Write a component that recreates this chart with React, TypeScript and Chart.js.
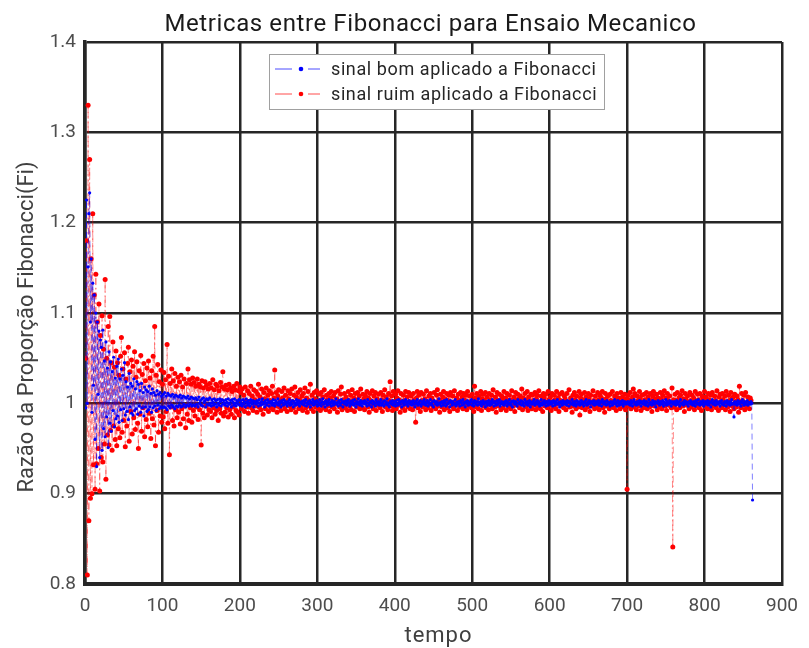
import React, { useEffect, useRef } from "react";
import { Chart, registerables } from "chart.js";

Chart.register(...registerables);

const TITLE = "Metricas entre Fibonacci para Ensaio Mecanico";
const X_TITLE = "tempo";
const Y_TITLE = "Razão da Proporção Fibonacci(Fi)";
const SERIES_LABELS = ["sinal bom aplicado a Fibonacci", "sinal ruim aplicado a Fibonacci"];
const X_TICK_VALUES = [0, 100, 200, 300, 400, 500, 600, 700, 800, 900];
const Y_TICK_LABELS = ["0.8", "0.9", "1", "1.1", "1.2", "1.3", "1.4"];

// sinal ruim (red), t = 1..860
const RUIM = [
  1.05, 1.18, 0.81, 1.33, 0.87, 1.27, 0.895, 1.16, 0.9, 1.21, 0.932, 1.12, 0.905, 1.143, 0.933, 1.09, 0.95, 1.11, 0.903, 1.075,
  0.94, 1.097, 0.935, 1.06, 0.955, 1.137, 0.916, 1.05, 0.965, 1.085, 0.954, 1.096, 0.97, 1.045, 0.948, 1.068, 0.975, 1.04, 0.96, 1.058,
  0.953, 1.045, 0.972, 1.031, 0.962, 1.052, 1.073, 0.968, 1.038, 0.981, 1.056, 0.952, 1.027, 0.975, 1.044, 1.062, 0.958, 1.035, 0.991, 1.048,
  0.966, 1.041, 0.984, 1.057, 0.971, 1.029, 1.046, 0.978, 0.95, 1.036, 0.988, 1.053, 0.969, 1.032, 0.995, 1.044, 0.963, 1.025, 0.982, 1.039,
  0.974, 1.047, 0.989, 1.028, 0.961, 1.036, 0.983, 1.052, 0.976, 1.085, 0.953, 1.031, 0.992, 1.043, 0.968, 1.024, 0.986, 1.037, 0.979, 1.021,
  0.985, 1.034, 0.972, 1.026, 0.991, 1.065, 0.978, 1.03, 0.943, 1.022, 0.996, 1.038, 0.981, 1.025, 0.975, 1.033, 0.993, 1.019, 0.984, 1.029,
  0.99, 1.024, 0.977, 1.031, 0.994, 1.018, 0.983, 1.027, 0.997, 0.973, 1.022, 0.988, 1.038, 0.981, 1.026, 0.995, 1.021, 0.979, 1.028, 0.992,
  1.023, 0.986, 1.019, 0.996, 1.027, 0.982, 1.021, 0.993, 1.018, 0.954, 1.025, 0.989, 1.017, 0.984, 1.024, 0.997, 1.02, 0.987, 1.016, 0.993,
  1.022, 0.991, 1.017, 0.984, 1.026, 0.995, 1.015, 0.988, 1.021, 0.992, 1.019, 0.981, 1.014, 0.994, 1.023, 0.989, 1.018, 1.035, 0.986, 1.016,
  0.99, 1.02, 0.995, 1.015, 0.985, 1.021, 0.993, 1.017, 0.988, 1.013, 0.996, 1.019, 0.984, 1.015, 0.992, 1.022, 0.99, 1.014, 0.987, 1.018,
  1.012, 0.994, 1.016, 0.998, 1.009, 0.991, 1.018, 1.003, 0.996, 1.014, 0.989, 1.011, 1.002, 1.019, 0.995, 1.008, 0.992, 1.015, 1.004, 0.997,
  1.013, 0.99, 1.01, 1.021, 0.996, 1.007, 0.993, 1.016, 1.001, 0.988, 1.012, 1.005, 0.994, 1.017, 0.999, 1.009, 0.991, 1.014, 1.003, 0.995,
  1.011, 1.019, 0.993, 1.006, 1.037, 0.997, 1.012, 0.99, 1.008, 1.015, 0.996, 1.003, 0.992, 1.013, 1.006, 0.998, 1.017, 0.994, 1.009, 1.002,
  0.991, 1.014, 1.005, 0.997, 1.011, 0.993, 1.016, 1.002, 0.995, 1.009, 1.018, 0.99, 1.007, 0.999, 1.012, 0.994, 1.004, 1.015, 0.996, 1.008,
  0.992, 1.011, 1.001, 1.017, 0.995, 1.006, 0.99, 1.013, 1.003, 0.997, 1.021, 0.994, 1.009, 1.0, 0.991, 1.012, 1.005, 0.996, 1.014, 1.002,
  0.994, 1.01, 1.003, 0.992, 1.012, 0.998, 1.007, 0.995, 1.015, 1.001, 0.993, 1.009, 1.004, 0.997, 1.011, 0.991, 1.006, 1.013, 0.996, 1.002,
  1.008, 0.994, 1.012, 0.999, 1.005, 0.99, 1.014, 1.002, 0.996, 1.01, 1.018, 0.993, 1.004, 0.998, 1.011, 0.995, 1.007, 1.001, 0.992, 1.013,
  1.003, 0.997, 1.009, 0.993, 1.015, 1.0, 1.006, 0.991, 1.011, 1.004, 0.996, 1.012, 0.998, 1.008, 0.994, 1.016, 1.002, 0.995, 1.01, 1.005,
  0.993, 1.009, 1.001, 1.013, 0.996, 1.006, 0.99, 1.011, 1.003, 0.997, 1.014, 0.994, 1.008, 1.0, 1.012, 0.992, 1.005, 0.998, 1.01, 1.002,
  0.995, 1.012, 1.004, 0.991, 1.009, 0.999, 1.015, 0.996, 1.007, 1.001, 0.993, 1.011, 1.003, 1.024, 0.997, 1.008, 0.992, 1.013, 1.002, 0.996,
  1.01, 0.994, 1.006, 1.014, 0.998, 1.004, 0.99, 1.011, 1.001, 0.995, 1.009, 1.003, 0.992, 1.013, 0.999, 1.007, 0.996, 1.012, 1.002, 0.994,
  1.008, 1.0, 0.993, 1.011, 1.004, 0.997, 0.979, 1.006, 1.013, 0.995, 1.009, 1.001, 0.991, 1.012, 1.003, 0.996, 1.01, 0.998, 1.005, 0.993,
  1.014, 1.002, 0.995, 1.008, 0.999, 1.011, 0.992, 1.006, 1.003, 0.996, 1.012, 1.0, 0.994, 1.009, 1.015, 0.997, 1.004, 0.99, 1.01, 1.002,
  0.996, 1.007, 1.013, 0.993, 1.005, 0.999, 1.011, 0.995, 1.003, 1.009, 0.991, 1.012, 1.001, 0.997, 1.008, 0.994, 1.014, 1.002, 0.998, 1.006,
  0.992, 1.01, 1.003, 0.996, 1.012, 1.0, 1.007, 0.994, 1.011, 1.004, 0.998, 1.009, 0.993, 1.013, 1.001, 0.997, 1.008, 1.002, 0.995, 1.01,
  1.004, 0.991, 1.019, 1.006, 0.996, 1.011, 1.001, 0.994, 1.008, 0.999, 1.013, 0.992, 1.005, 1.01, 0.997, 1.003, 1.012, 0.995, 1.007, 1.0,
  0.993, 1.011, 1.004, 0.998, 1.009, 0.994, 1.015, 1.002, 0.996, 1.007, 0.99, 1.012, 1.003, 0.997, 1.01, 1.001, 0.993, 1.008, 1.005, 0.995,
  1.013, 0.999, 1.006, 0.992, 1.011, 1.002, 0.996, 1.009, 1.004, 0.994, 1.014, 1.0, 0.997, 1.007, 0.991, 1.012, 1.003, 0.998, 1.01, 1.005,
  0.995, 1.008, 1.001, 1.016, 0.993, 1.006, 0.999, 1.011, 0.996, 1.004, 1.013, 0.992, 1.007, 1.002, 0.997, 1.01, 0.994, 1.009, 1.003, 0.998,
  1.012, 0.993, 1.005, 1.009, 0.996, 1.014, 1.0, 0.994, 1.008, 1.003, 0.991, 1.011, 1.006, 0.997, 1.01, 1.001, 0.995, 1.013, 1.004, 0.998,
  1.007, 0.992, 1.011, 1.002, 0.996, 1.009, 1.004, 0.994, 1.013, 0.999, 1.006, 0.991, 1.01, 1.003, 0.997, 1.012, 1.0, 0.995, 1.008, 1.005,
  0.993, 1.011, 1.001, 0.998, 1.015, 0.996, 1.006, 1.003, 0.99, 1.009, 0.997, 1.012, 1.004, 0.994, 1.008, 1.0, 0.996, 1.013, 0.987, 1.006,
  1.01, 0.995, 1.004, 0.999, 1.012, 0.993, 1.007, 1.002, 0.996, 1.011, 1.005, 0.991, 1.009, 1.0, 0.997, 1.014, 1.003, 0.994, 1.008, 1.001,
  0.996, 1.012, 1.004, 0.993, 1.009, 0.998, 1.006, 1.013, 0.995, 1.002, 0.99, 1.011, 1.005, 0.997, 1.008, 1.0, 0.994, 1.01, 1.003, 0.996,
  1.013, 1.001, 0.995, 1.008, 1.004, 0.992, 1.011, 0.998, 1.006, 1.002, 0.994, 1.012, 0.999, 1.007, 1.003, 0.996, 1.01, 0.993, 1.005, 0.905,
  1.009, 0.997, 1.004, 1.012, 0.994, 1.002, 1.007, 1.016, 0.996, 1.011, 1.0, 0.993, 1.008, 1.003, 0.997, 1.013, 1.005, 0.992, 1.009, 1.001,
  0.995, 1.01, 1.004, 0.998, 1.012, 0.994, 1.007, 1.001, 0.996, 1.011, 1.003, 0.991, 1.008, 1.013, 0.997, 1.005, 0.999, 1.01, 0.993, 1.006,
  1.002, 0.996, 1.012, 1.005, 0.994, 1.009, 1.0, 1.014, 0.997, 1.006, 0.992, 1.011, 1.003, 0.998, 1.008, 1.001, 0.995, 1.017, 0.841, 1.004,
  0.996, 1.01, 1.003, 0.993, 1.012, 1.0, 1.006, 0.995, 1.009, 1.002, 1.014, 0.997, 1.005, 0.991, 1.011, 1.004, 0.998, 1.008, 1.001, 0.994,
  1.012, 1.003, 0.996, 1.009, 0.999, 1.006, 0.993, 1.013, 1.002, 0.997, 1.01, 1.004, 0.995, 1.011, 1.0, 0.992, 1.008, 1.005, 0.998, 1.013,
  0.996, 1.007, 1.002, 0.994, 1.011, 1.004, 0.999, 1.009, 0.993, 1.012, 1.001, 0.997, 1.008, 1.003, 0.995, 1.014, 1.0, 0.992, 1.007, 1.01,
  1.002, 0.995, 1.011, 1.004, 0.998, 1.008, 0.993, 1.013, 1.001, 0.996, 1.009, 1.003, 0.991, 1.012, 1.005, 0.997, 1.007, 0.994, 1.01, 1.002,
  0.996, 1.008, 1.004, 0.99, 1.019, 1.001, 0.995, 1.011, 1.003, 0.998, 1.009, 0.993, 1.012, 1.0, 0.996, 1.007, 1.002, 0.994, 1.006, 1.003,
];

// sinal bom (blue), t = 1..862
const BOM = [
  0.995, 1.225, 1.0, 1.151, 1.21, 1.233, 1.09, 1.16, 0.99, 1.133, 1.02, 1.12, 0.96, 1.10, 0.93, 1.09, 1.01, 1.08, 0.94, 1.07,
  1.062, 0.948, 1.081, 0.972, 1.047, 0.963, 1.068, 0.985, 1.039, 0.951, 1.057, 0.978, 1.046, 0.969, 1.035, 0.992, 1.051, 0.974, 1.028, 0.983,
  1.041, 0.986, 1.049, 0.979, 1.027, 0.993, 1.038, 0.981, 1.031, 0.994, 1.045, 0.987, 1.024, 0.991, 1.018, 0.982, 1.033, 0.996, 1.022, 0.989,
  1.019, 0.987, 1.027, 0.992, 1.016, 0.994, 1.024, 0.988, 1.021, 0.997, 1.014, 0.99, 1.022, 0.995, 1.012, 0.986, 1.018, 0.996, 1.015, 0.991,
  1.013, 0.993, 1.019, 0.996, 1.011, 0.99, 1.016, 0.995, 1.012, 0.997, 1.009, 0.992, 1.014, 0.998, 1.01, 0.994, 1.012, 0.996, 1.008, 0.995,
  1.01, 0.996, 1.012, 0.995, 1.008, 0.993, 1.011, 0.997, 1.009, 0.995, 1.008, 0.998, 1.01, 0.996, 1.007, 0.994, 1.009, 0.997, 1.008, 0.996,
  1.007, 0.998, 1.009, 0.996, 1.006, 0.997, 1.008, 0.999, 1.007, 0.996, 1.006, 0.998, 1.008, 0.997, 1.005, 0.999, 1.007, 0.997, 1.006, 0.998,
  1.005, 0.997, 1.006, 0.999, 1.004, 0.996, 1.007, 1.0, 1.003, 0.998, 1.005, 0.997, 1.006, 1.001, 1.003, 0.996, 1.005, 0.999, 1.004, 0.998,
  1.006, 1.0, 0.997, 1.004, 1.001, 0.998, 1.005, 0.999, 1.003, 0.996, 1.004, 1.0, 0.998, 1.005, 1.002, 0.997, 1.004, 0.999, 1.003, 1.0,
  0.998, 1.004, 1.001, 0.997, 1.005, 1.0, 0.999, 1.003, 0.996, 1.004, 1.001, 0.998, 1.005, 1.0, 0.997, 1.003, 1.002, 0.999, 1.004, 0.998,
  1.003, 1.0, 0.997, 1.004, 0.999, 1.002, 0.996, 1.005, 1.001, 0.998, 1.003, 1.0, 0.997, 1.004, 1.001, 0.999, 1.003, 0.996, 1.002, 1.0,
  0.999, 1.003, 1.001, 0.997, 1.004, 1.0, 0.998, 1.002, 1.005, 0.999, 1.001, 0.996, 1.003, 1.0, 0.998, 1.004, 1.001, 0.997, 1.002, 1.0,
  1.002, 0.998, 1.004, 1.0, 0.997, 1.003, 1.001, 0.999, 1.005, 0.998, 1.002, 1.0, 0.996, 1.003, 1.001, 0.998, 1.004, 0.999, 1.002, 1.0,
  0.997, 1.002, 1.0, 1.004, 0.998, 1.001, 0.999, 1.003, 0.996, 1.002, 1.0, 0.998, 1.004, 1.001, 0.999, 1.003, 0.997, 1.001, 1.0, 1.002,
  0.999, 1.003, 0.998, 1.001, 1.004, 0.997, 1.0, 1.002, 0.999, 1.003, 0.996, 1.001, 1.0, 1.004, 0.998, 1.002, 0.999, 1.001, 1.003, 0.997,
  1.001, 0.998, 1.004, 1.0, 0.997, 1.002, 1.005, 0.999, 1.001, 0.996, 1.003, 1.0, 0.998, 1.002, 1.004, 0.999, 1.001, 0.997, 1.003, 1.0,
  0.998, 1.002, 1.0, 1.005, 0.999, 1.001, 0.997, 1.003, 1.0, 0.998, 1.004, 1.001, 0.996, 1.002, 1.0, 0.999, 1.003, 0.998, 1.001, 1.004,
  1.0, 0.997, 1.002, 0.999, 1.003, 1.001, 0.998, 1.004, 1.0, 0.996, 1.002, 0.999, 1.005, 1.001, 0.998, 1.003, 1.0, 0.997, 1.002, 1.0,
  1.003, 0.999, 1.001, 0.997, 1.004, 1.0, 0.998, 1.002, 1.001, 0.996, 1.003, 0.999, 1.002, 1.0, 0.997, 1.004, 1.001, 0.999, 1.002, 0.998,
  1.001, 1.004, 0.998, 1.0, 1.002, 0.997, 1.003, 0.999, 1.001, 1.005, 0.998, 1.0, 0.996, 1.002, 1.001, 0.999, 1.003, 0.998, 1.0, 1.002,
  0.997, 1.003, 1.0, 0.998, 1.004, 1.001, 0.999, 1.002, 0.996, 1.003, 1.0, 0.998, 1.002, 1.004, 0.999, 1.001, 0.997, 1.003, 1.0, 0.999,
  1.002, 0.998, 1.001, 1.003, 0.999, 0.996, 1.002, 1.0, 1.004, 0.998, 1.001, 0.999, 1.003, 0.997, 1.0, 1.002, 0.999, 1.004, 1.001, 0.998,
  1.0, 1.003, 0.997, 1.001, 0.999, 1.004, 1.0, 0.998, 1.002, 0.996, 1.003, 1.001, 0.999, 1.002, 0.998, 1.0, 1.005, 0.999, 1.001, 0.997,
  1.002, 1.0, 0.998, 1.003, 1.001, 0.997, 1.004, 0.999, 1.0, 1.002, 0.996, 1.003, 1.001, 0.998, 1.002, 1.0, 0.999, 1.004, 0.997, 1.001,
  0.999, 1.002, 1.0, 0.997, 1.003, 1.001, 0.998, 1.004, 0.999, 1.001, 0.996, 1.002, 1.0, 1.003, 0.998, 1.001, 0.999, 1.002, 1.004, 0.998,
  1.001, 0.997, 1.003, 1.0, 0.999, 1.002, 0.998, 1.005, 1.001, 0.999, 1.002, 0.997, 1.0, 1.003, 0.999, 1.001, 0.996, 1.002, 1.0, 0.998,
  1.003, 1.0, 0.998, 1.002, 0.999, 1.004, 1.001, 0.997, 1.002, 1.0, 0.998, 1.003, 0.999, 1.001, 1.004, 0.997, 1.0, 1.002, 0.999, 1.001,
  0.998, 1.002, 1.0, 1.003, 0.997, 1.001, 0.999, 1.004, 1.0, 0.998, 1.002, 0.996, 1.003, 1.001, 0.999, 1.002, 1.0, 0.997, 1.004, 1.0,
  1.001, 0.999, 1.003, 0.998, 1.002, 1.0, 0.997, 1.004, 1.001, 0.999, 1.002, 0.998, 1.0, 1.003, 0.996, 1.001, 0.999, 1.002, 1.0, 1.004,
  0.998, 1.001, 1.0, 1.003, 0.999, 1.002, 0.997, 1.0, 1.004, 0.998, 1.001, 0.999, 1.003, 1.0, 0.997, 1.002, 1.001, 0.998, 1.003, 1.0,
  0.999, 1.002, 1.0, 0.997, 1.003, 1.001, 0.998, 1.002, 1.0, 1.004, 0.999, 1.001, 0.996, 1.002, 1.0, 0.998, 1.003, 1.001, 0.999, 1.002,
  1.0, 0.998, 1.003, 1.001, 0.997, 1.002, 1.0, 0.999, 1.004, 1.001, 0.998, 1.002, 1.0, 0.997, 1.003, 0.999, 1.001, 1.002, 0.998, 1.0,
  1.003, 0.999, 1.001, 0.997, 1.002, 1.0, 1.004, 0.998, 1.001, 0.999, 1.003, 1.0, 0.996, 1.002, 1.001, 0.999, 1.003, 0.998, 1.0, 1.002,
  0.999, 1.001, 1.003, 0.998, 1.0, 1.002, 0.997, 1.004, 1.001, 0.999, 1.002, 1.0, 0.998, 1.003, 0.999, 1.001, 1.0, 0.997, 1.002, 1.001,
  0.998, 1.002, 1.0, 1.004, 0.999, 1.001, 0.997, 1.003, 1.0, 0.998, 1.002, 1.001, 0.999, 1.003, 0.997, 1.0, 1.002, 0.999, 1.001, 1.0,
  1.002, 0.999, 1.001, 0.998, 1.003, 1.0, 0.997, 1.002, 1.004, 0.999, 1.001, 0.998, 1.002, 1.0, 0.999, 1.003, 1.001, 0.997, 1.002, 1.0,
  0.999, 1.003, 1.0, 0.998, 1.002, 1.001, 0.997, 1.004, 0.999, 1.001, 1.0, 0.998, 1.003, 1.001, 0.999, 1.002, 0.996, 1.001, 1.0, 1.003,
  1.0, 0.998, 1.002, 1.001, 0.999, 1.003, 0.997, 1.001, 1.0, 1.004, 0.998, 1.002, 1.0, 0.999, 1.003, 1.001, 0.997, 1.002, 1.0, 0.999,
  1.002, 1.0, 0.998, 1.003, 1.001, 0.999, 1.002, 0.997, 1.004, 1.0, 0.999, 1.001, 0.998, 1.003, 1.0, 1.002, 0.999, 1.001, 0.997, 1.002,
  1.0, 1.003, 0.999, 1.001, 0.998, 1.002, 1.0, 0.997, 1.003, 1.001, 0.999, 1.004, 1.0, 0.998, 1.002, 1.001, 0.999, 1.003, 0.997, 1.0,
  1.002, 0.999, 1.001, 1.003, 0.998, 1.0, 1.002, 0.996, 1.001, 1.004, 0.999, 1.0, 1.002, 0.998, 1.003, 1.001, 0.999, 1.0, 1.002, 0.997,
  1.001, 1.003, 0.999, 1.0, 0.998, 1.002, 1.001, 0.997, 1.003, 1.0, 0.999, 1.002, 0.998, 1.001, 1.004, 0.999, 1.0, 0.985, 1.002, 0.999,
  1.001, 0.998, 1.003, 1.0, 0.999, 1.002, 0.997, 1.001, 1.004, 1.0, 0.998, 1.002, 1.0, 0.999, 1.003, 0.998, 1.001, 1.0, 0.999, 1.002,
  1.0, 0.893,
];

const BLUE = "#0000ff";
const RED = "#ff0000";
const FONT = "Roboto";

// draws title, axis titles and the boxed legend
const textsAndLegend = {
  id: "textsAndLegend",
  afterDraw(chart: any) {
    const ctx = chart.ctx;
    const area = chart.chartArea;
    const cx = (area.left + area.right) / 2;
    const cy = (area.top + area.bottom) / 2;

    ctx.save();
    ctx.textAlign = "center";
    ctx.textBaseline = "alphabetic";
    // title
    ctx.fillStyle = "#1a1a1a";
    ctx.font = `24px ${FONT}`;
    (ctx as any).letterSpacing = "0.6px";
    ctx.fillText(TITLE, cx - 3, 31);
    // x title
    ctx.fillStyle = "#404040";
    ctx.font = `22px ${FONT}`;
    (ctx as any).letterSpacing = "1px";
    ctx.fillText(X_TITLE, cx + 5, 642);
    // y title
    (ctx as any).letterSpacing = "0px";
    ctx.translate(33, cy + 14);
    ctx.rotate(-Math.PI / 2);
    ctx.fillText(Y_TITLE, 0, 0);
    ctx.restore();

    // legend box
    const x0 = 269;
    const y0 = 54;
    const w = 335;
    const h = 55;
    ctx.save();
    ctx.fillStyle = "#ffffff";
    ctx.fillRect(x0, y0, w, h);
    ctx.strokeStyle = "#a0a0a0";
    ctx.lineWidth = 1;
    ctx.strokeRect(x0 + 0.5, y0 + 0.5, w, h);
    chart.data.datasets.forEach((ds: any, i: number) => {
      const y = y0 + 15 + i * 25;
      ctx.strokeStyle = ds.legendLine;
      ctx.lineWidth = 1;
      ctx.beginPath();
      ctx.moveTo(x0 + 6, y);
      ctx.lineTo(x0 + 23, y);
      ctx.moveTo(x0 + 39, y);
      ctx.lineTo(x0 + 51, y);
      ctx.stroke();
      ctx.fillStyle = ds.pointBackgroundColor;
      ctx.beginPath();
      ctx.arc(x0 + 32, y, 2.3, 0, Math.PI * 2);
      ctx.fill();
      ctx.fillStyle = "#262626";
      ctx.font = `18px ${FONT}`;
      (ctx as any).letterSpacing = "0.6px";
      ctx.textBaseline = "middle";
      ctx.textAlign = "left";
      ctx.fillText(ds.label, x0 + 62, y + 1);
    });
    ctx.restore();
  },
};

export default function App() {
  const ref = useRef<HTMLCanvasElement | null>(null);

  useEffect(() => {
    const canvas = ref.current;
    if (!canvas) return;
    const bom = BOM.map((v, i) => ({ x: i + 1, y: v }));
    const ruim = RUIM.map((v, i) => ({ x: i + 1, y: v }));
    const chart = new Chart(canvas, {
      type: "line",
      data: {
        datasets: [
          {
            label: SERIES_LABELS[0],
            data: bom,
            order: 0,
            borderColor: "rgba(0,0,255,0.5)",
            legendLine: "rgba(0,0,255,0.7)",
            borderWidth: 1,
            borderDash: [6, 4],
            pointRadius: 1.6,
            pointBackgroundColor: BLUE,
            pointBorderWidth: 0,
            tension: 0,
          } as any,
          {
            label: SERIES_LABELS[1],
            data: ruim,
            order: 1,
            borderColor: "rgba(255,0,0,0.45)",
            legendLine: "rgba(255,0,0,0.7)",
            borderWidth: 1,
            borderDash: [7, 3, 1.5, 3],
            pointRadius: 2.5,
            pointBackgroundColor: RED,
            pointBorderWidth: 0,
            tension: 0,
          } as any,
        ],
      },
      options: {
        responsive: false,
        animation: false,
        devicePixelRatio: 1,
        events: [],
        layout: { padding: { left: 0, right: 20, top: 42, bottom: 0 } },
        plugins: {
          legend: { display: false },
          tooltip: { enabled: false },
          title: { display: false },
        },
        scales: {
          x: {
            type: "linear",
            min: 0,
            max: 900,
            afterFit: (s: any) => {
              s.height = 64;
            },
            afterBuildTicks: (s: any) => {
              s.ticks = X_TICK_VALUES.map((v) => ({ value: v }));
            },
            ticks: {
              color: "#4d4d4d",
              font: { family: FONT, size: 19 },
              padding: 11,
              maxRotation: 0,
              callback: (v: any) => String(v),
            },
            grid: { color: "#262626", lineWidth: 2.5, drawTicks: false },
            border: { display: true, color: "#262626", width: 4 },
          },
          y: {
            type: "linear",
            min: 0.8,
            max: 1.4,
            afterFit: (s: any) => {
              s.width = 85;
            },
            ticks: {
              stepSize: 0.1,
              color: "#4d4d4d",
              font: { family: FONT, size: 19 },
              padding: 9,
              callback: (_v: any, i: number) => Y_TICK_LABELS[i],
            },
            grid: { color: "#262626", lineWidth: 2.5, drawTicks: false },
            border: { display: true, color: "#262626", width: 3.5 },
          },
        },
      },
      plugins: [textsAndLegend],
    });
    return () => chart.destroy();
  }, []);

  return (
    <div style={{ position: "absolute", left: 0, top: 0, width: 809, height: 648, background: "#fff" }}>
      <canvas ref={ref} width={809} height={648} style={{ display: "block", width: 809, height: 648 }} />
    </div>
  );
}
